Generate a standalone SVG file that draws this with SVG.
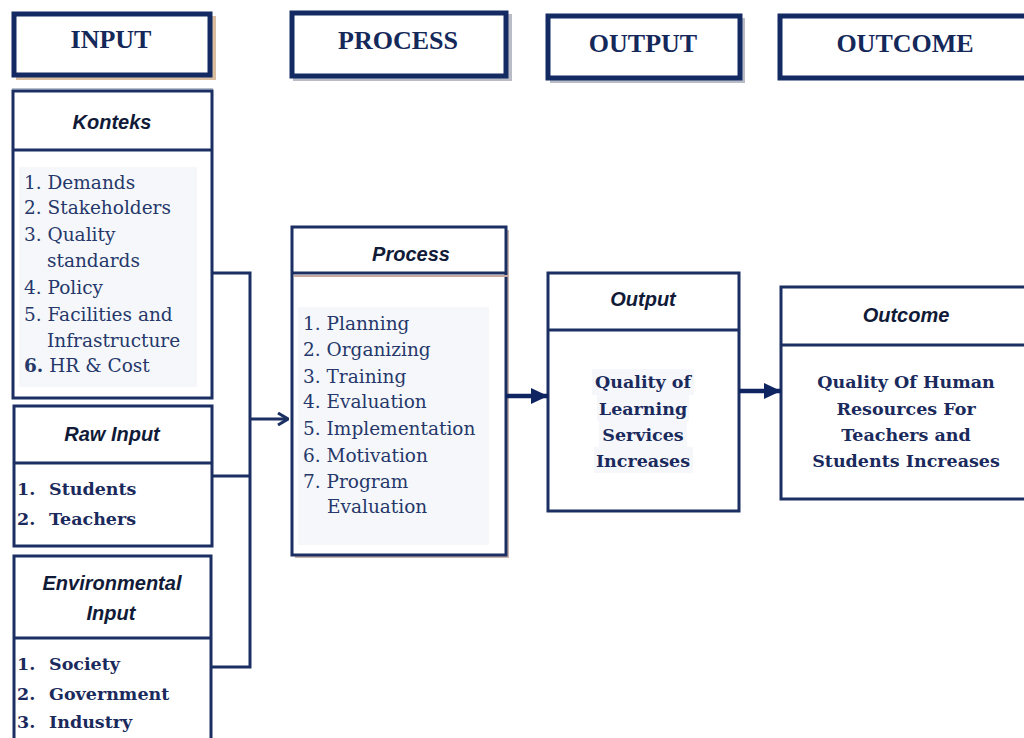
<svg xmlns="http://www.w3.org/2000/svg" width="1024" height="738" viewBox="0 0 1024 738">
<defs>
<style>
.bx{fill:#fff;stroke:#1b2f63;stroke-width:3}
.hd{fill:#fff;stroke:#132a62;stroke-width:5}
.dv{stroke:#1b2f63;stroke-width:3}
.panel{fill:#f5f7fa}
.top{font-family:"Liberation Serif",serif;font-weight:bold;font-size:26px;fill:#14285a;text-anchor:middle}
.ttl{font-family:"Liberation Sans",Arial,sans-serif;font-weight:bold;font-style:italic;font-size:20px;fill:#111b38;text-anchor:middle}
.li{font-family:"DejaVu Serif",serif;font-size:18.5px;fill:#26386a}
.lb{font-family:"DejaVu Serif",serif;font-weight:bold;font-size:17.5px;fill:#1b2a5c}
.cb{font-family:"DejaVu Serif",serif;font-weight:bold;font-size:17.5px;fill:#1b2a5c;text-anchor:middle}
.con{fill:none;stroke:#1b2f63;stroke-width:3}
.shT{fill:#d9bfa0}
.shG{fill:#b9bcc6}
</style>
<marker id="open" markerWidth="12" markerHeight="14" refX="11" refY="7" orient="auto" markerUnits="userSpaceOnUse">
<path d="M1,1 L11,7 L1,13" fill="none" stroke="#1b2f63" stroke-width="3"/>
</marker>
<marker id="solid" markerWidth="18" markerHeight="18" refX="17" refY="9" orient="auto" markerUnits="userSpaceOnUse">
<path d="M0,1 L17,9 L0,17 Z" fill="#0f2561"/>
</marker>
</defs>

<g id="hdr-input">
<rect class="shT" x="16" y="16" width="200" height="64"/>
<rect class="hd" x="14" y="14" width="196" height="61" stroke-width="4"/>
<text class="top" x="111" y="48">INPUT</text>
</g>
<g id="hdr-process">
<rect class="shG" x="293" y="14" width="219" height="67"/>
<rect class="hd" x="292" y="13" width="214" height="63" stroke-width="6"/>
<text class="top" x="398" y="49">PROCESS</text>
</g>
<g id="hdr-output">
<rect class="shG" x="550" y="18" width="195" height="65"/>
<rect class="hd" x="548" y="16" width="192" height="62" stroke="#02075f"/>
<text class="top" x="643" y="52">OUTPUT</text>
</g>
<g id="hdr-outcome">
<rect class="hd" x="780" y="16" width="250" height="62"/>
<text class="top" x="905" y="52">OUTCOME</text>
</g>

<g id="konteks">
<rect x="12" y="88" width="201" height="1.5" fill="#b8bfcc"/>
<rect class="bx" x="13" y="91" width="199" height="307"/>
<line class="dv" x1="13" y1="150" x2="212" y2="150"/>
<rect class="panel" x="19" y="167" width="178" height="220"/>
<text class="ttl" x="112" y="129">Konteks</text>
<text class="li" x="24" y="189">1. Demands</text>
<text class="li" x="24" y="214">2. Stakeholders</text>
<text class="li" x="24" y="241">3. Quality</text>
<text class="li" x="47" y="267">standards</text>
<text class="li" x="24" y="294">4.  Policy</text>
<text class="li" x="24" y="321">5.  Facilities and</text>
<text class="li" x="47" y="347">Infrastructure</text>
<text class="li" x="24" y="372"><tspan font-weight="bold">6.</tspan>  HR &amp; Cost</text>
</g>

<g id="raw-input">
<rect class="bx" x="14" y="406" width="198" height="140"/>
<line class="dv" x1="14" y1="463" x2="212" y2="463"/>
<text class="ttl" x="112" y="441">Raw Input</text>
<text class="lb" x="17" y="495">1.</text><text class="lb" x="49" y="495">Students</text>
<text class="lb" x="17" y="525">2.</text><text class="lb" x="49" y="525">Teachers</text>
</g>

<g id="env-input">
<rect class="bx" x="14" y="556" width="197" height="190"/>
<line class="dv" x1="14" y1="638" x2="211" y2="638"/>
<text class="ttl" x="112" y="590">Environmental</text>
<text class="ttl" x="111" y="620">Input</text>
<text class="lb" x="17" y="670">1.</text><text class="lb" x="49" y="670">Society</text>
<text class="lb" x="17" y="700">2.</text><text class="lb" x="49" y="700">Government</text>
<text class="lb" x="17" y="728">3.</text><text class="lb" x="49" y="728">Industry</text>
</g>

<g id="process">
<rect x="295" y="230" width="214" height="328" fill="#c9b3ad"/>
<rect class="bx" x="292" y="227" width="214" height="328"/>
<line class="dv" x1="292" y1="273" x2="506" y2="273"/>
<line x1="294" y1="276" x2="508" y2="276" stroke="#c9a8a0" stroke-width="2"/>
<rect class="panel" x="298" y="307" width="191" height="238"/>
<text class="ttl" x="411" y="261">Process</text>
<text class="li" x="303" y="330">1. Planning</text>
<text class="li" x="303" y="356">2. Organizing</text>
<text class="li" x="303" y="383">3. Training</text>
<text class="li" x="303" y="408">4. Evaluation</text>
<text class="li" x="303" y="435">5. Implementation</text>
<text class="li" x="303" y="462">6. Motivation</text>
<text class="li" x="303" y="488">7. Program</text>
<text class="li" x="327" y="513">Evaluation</text>
</g>

<g id="output">
<rect class="bx" x="548" y="273" width="191" height="238"/>
<line class="dv" x1="548" y1="330" x2="739" y2="330"/>
<text class="ttl" x="643" y="306">Output</text>
<rect class="panel" x="592" y="369" width="102" height="26"/>
<rect class="panel" x="597" y="395" width="92" height="26"/>
<rect class="panel" x="599" y="421" width="88" height="26"/>
<rect class="panel" x="594" y="447" width="99" height="26"/>
<text class="cb" x="643" y="388">Quality of</text>
<text class="cb" x="643" y="415">Learning</text>
<text class="cb" x="643" y="441">Services</text>
<text class="cb" x="643" y="467">Increases</text>
</g>

<g id="outcome">
<rect class="bx" x="781" y="287" width="250" height="212"/>
<line class="dv" x1="781" y1="345" x2="1031" y2="345"/>
<text class="ttl" x="906" y="322">Outcome</text>
<text class="cb" x="906" y="388">Quality Of Human</text>
<text class="cb" x="906" y="415">Resources For</text>
<text class="cb" x="906" y="441">Teachers and</text>
<text class="cb" x="906" y="467">Students Increases</text>
</g>

<g id="connectors">
<path class="con" d="M212,273 H250 V667 H212"/>
<path class="con" d="M212,476 H250"/>
<path class="con" d="M250,419 H288" marker-end="url(#open)"/>
<path d="M506,396 H548" fill="none" stroke="#0f2561" stroke-width="4.5" marker-end="url(#solid)"/>
<path d="M739,391 H781" fill="none" stroke="#0f2561" stroke-width="4.5" marker-end="url(#solid)"/>
</g>
</svg>
